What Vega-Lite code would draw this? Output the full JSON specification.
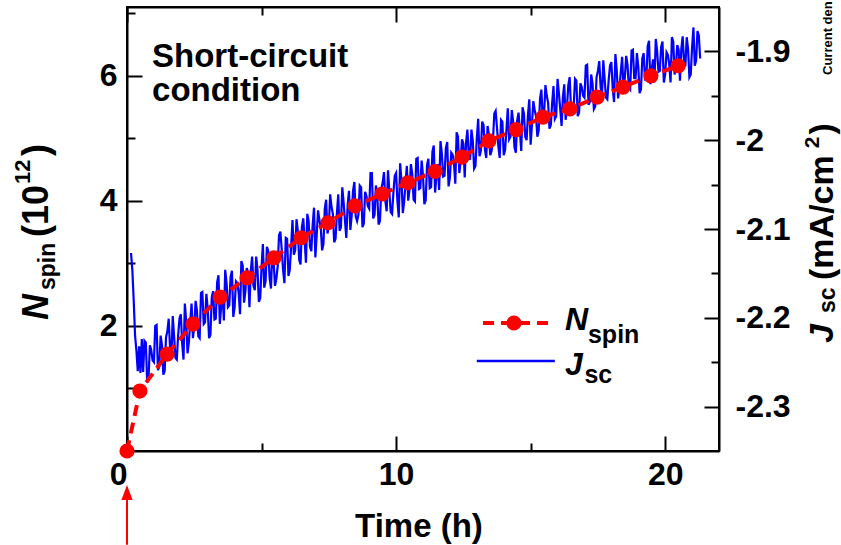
{
  "$schema": "https://vega.github.io/schema/vega-lite/v6.json",
  "width": 592,
  "height": 444,
  "autosize": {"type": "none"},
  "padding": {"left": 127, "top": 7, "right": 122, "bottom": 94},
  "background": "white",
  "config": {
    "view": {"stroke": "black", "strokeWidth": 2},
    "font": "Liberation Sans",
    "axis": {
      "labelFont": "Liberation Sans",
      "labelFontSize": 32,
      "labelFontWeight": "bold",
      "labelColor": "black",
      "tickColor": "black",
      "tickWidth": 2,
      "domainColor": "black",
      "domainWidth": 2,
      "grid": false,
      "labelOverlap": false,
      "labelFlush": false,
      "labelBound": false
    }
  },
  "datasets": {
    "nspin": [
      {"t": 0, "n": 0},
      {"t": 0.48, "n": 0.96},
      {"t": 1.49, "n": 1.55},
      {"t": 2.45, "n": 2.03},
      {"t": 3.46, "n": 2.46},
      {"t": 4.46, "n": 2.77},
      {"t": 5.46, "n": 3.09},
      {"t": 6.47, "n": 3.41},
      {"t": 7.47, "n": 3.65},
      {"t": 8.47, "n": 3.92},
      {"t": 9.48, "n": 4.11},
      {"t": 10.44, "n": 4.29},
      {"t": 11.45, "n": 4.47},
      {"t": 12.45, "n": 4.70},
      {"t": 13.45, "n": 4.96},
      {"t": 14.46, "n": 5.14},
      {"t": 15.46, "n": 5.34},
      {"t": 16.46, "n": 5.47},
      {"t": 17.47, "n": 5.66},
      {"t": 18.43, "n": 5.82},
      {"t": 19.47, "n": 6.00},
      {"t": 20.48, "n": 6.16}
    ],
    "jsc": [
      {"t": 0.15, "j": -2.127}, {"t": 0.2, "j": -2.147}, {"t": 0.25, "j": -2.181}, {"t": 0.3, "j": -2.220},
      {"t": 0.35, "j": -2.237}, {"t": 0.4, "j": -2.260}, {"t": 0.45, "j": -2.232}, {"t": 0.5, "j": -2.262},
      {"t": 0.55, "j": -2.224},
      {"t": 0.6, "j": -2.261}, {"t": 0.65, "j": -2.226}, {"t": 0.7, "j": -2.228}, {"t": 0.75, "j": -2.273},
      {"t": 0.8, "j": -2.269}, {"t": 0.85, "j": -2.231}, {"t": 0.9, "j": -2.236}, {"t": 0.95, "j": -2.248},
      {"t": 1.0, "j": -2.250}, {"t": 1.05, "j": -2.209}, {"t": 1.1, "j": -2.208}, {"t": 1.15, "j": -2.259},
      {"t": 1.2, "j": -2.255}, {"t": 1.25, "j": -2.220}, {"t": 1.3, "j": -2.231}, {"t": 1.35, "j": -2.264},
      {"t": 1.4, "j": -2.260}, {"t": 1.45, "j": -2.222}, {"t": 1.5, "j": -2.215}, {"t": 1.55, "j": -2.201},
      {"t": 1.6, "j": -2.234}, {"t": 1.65, "j": -2.245}, {"t": 1.7, "j": -2.198}, {"t": 1.75, "j": -2.221},
      {"t": 1.8, "j": -2.245}, {"t": 1.85, "j": -2.247}, {"t": 1.9, "j": -2.220}, {"t": 1.95, "j": -2.201},
      {"t": 2.0, "j": -2.196}, {"t": 2.05, "j": -2.229}, {"t": 2.1, "j": -2.247}, {"t": 2.15, "j": -2.184},
      {"t": 2.2, "j": -2.204}, {"t": 2.25, "j": -2.240}, {"t": 2.3, "j": -2.227}, {"t": 2.35, "j": -2.204},
      {"t": 2.4, "j": -2.184}, {"t": 2.45, "j": -2.223}, {"t": 2.5, "j": -2.210}, {"t": 2.55, "j": -2.181},
      {"t": 2.6, "j": -2.192}, {"t": 2.65, "j": -2.221}, {"t": 2.7, "j": -2.223}, {"t": 2.75, "j": -2.172},
      {"t": 2.8, "j": -2.171}, {"t": 2.85, "j": -2.207}, {"t": 2.9, "j": -2.205}, {"t": 2.95, "j": -2.173},
      {"t": 3.0, "j": -2.190}, {"t": 3.05, "j": -2.223}, {"t": 3.1, "j": -2.219}, {"t": 3.15, "j": -2.177},
      {"t": 3.2, "j": -2.170}, {"t": 3.25, "j": -2.202}, {"t": 3.3, "j": -2.201}, {"t": 3.35, "j": -2.160},
      {"t": 3.4, "j": -2.152}, {"t": 3.45, "j": -2.207}, {"t": 3.5, "j": -2.187}, {"t": 3.55, "j": -2.173},
      {"t": 3.6, "j": -2.203}, {"t": 3.65, "j": -2.146}, {"t": 3.7, "j": -2.161}, {"t": 3.75, "j": -2.188},
      {"t": 3.8, "j": -2.186}, {"t": 3.85, "j": -2.154}, {"t": 3.9, "j": -2.147}, {"t": 3.95, "j": -2.199},
      {"t": 4.0, "j": -2.188}, {"t": 4.05, "j": -2.159}, {"t": 4.1, "j": -2.161}, {"t": 4.15, "j": -2.172},
      {"t": 4.2, "j": -2.196}, {"t": 4.25, "j": -2.136}, {"t": 4.3, "j": -2.141}, {"t": 4.35, "j": -2.183},
      {"t": 4.4, "j": -2.170}, {"t": 4.45, "j": -2.144}, {"t": 4.5, "j": -2.149}, {"t": 4.55, "j": -2.188},
      {"t": 4.6, "j": -2.147}, {"t": 4.65, "j": -2.131}, {"t": 4.7, "j": -2.164}, {"t": 4.75, "j": -2.169},
      {"t": 4.8, "j": -2.131}, {"t": 4.85, "j": -2.146}, {"t": 4.9, "j": -2.182}, {"t": 4.95, "j": -2.178},
      {"t": 5.0, "j": -2.143}, {"t": 5.05, "j": -2.117}, {"t": 5.1, "j": -2.166}, {"t": 5.15, "j": -2.159},
      {"t": 5.2, "j": -2.120}, {"t": 5.25, "j": -2.125}, {"t": 5.3, "j": -2.155}, {"t": 5.35, "j": -2.167},
      {"t": 5.4, "j": -2.125}, {"t": 5.45, "j": -2.137}, {"t": 5.5, "j": -2.164}, {"t": 5.55, "j": -2.156},
      {"t": 5.6, "j": -2.142}, {"t": 5.65, "j": -2.107}, {"t": 5.7, "j": -2.103}, {"t": 5.75, "j": -2.123},
      {"t": 5.8, "j": -2.146}, {"t": 5.85, "j": -2.161}, {"t": 5.9, "j": -2.110}, {"t": 5.95, "j": -2.111},
      {"t": 6.0, "j": -2.153}, {"t": 6.05, "j": -2.146}, {"t": 6.1, "j": -2.119}, {"t": 6.15, "j": -2.090},
      {"t": 6.2, "j": -2.129}, {"t": 6.25, "j": -2.124}, {"t": 6.3, "j": -2.089}, {"t": 6.35, "j": -2.103},
      {"t": 6.4, "j": -2.135}, {"t": 6.45, "j": -2.140}, {"t": 6.5, "j": -2.098}, {"t": 6.55, "j": -2.088},
      {"t": 6.6, "j": -2.112}, {"t": 6.65, "j": -2.138}, {"t": 6.7, "j": -2.083}, {"t": 6.75, "j": -2.091},
      {"t": 6.8, "j": -2.120}, {"t": 6.85, "j": -2.125}, {"t": 6.9, "j": -2.095}, {"t": 6.95, "j": -2.076},
      {"t": 7.0, "j": -2.132}, {"t": 7.05, "j": -2.107}, {"t": 7.1, "j": -2.079}, {"t": 7.15, "j": -2.090},
      {"t": 7.2, "j": -2.098}, {"t": 7.25, "j": -2.124}, {"t": 7.3, "j": -2.117}, {"t": 7.35, "j": -2.077},
      {"t": 7.4, "j": -2.067}, {"t": 7.45, "j": -2.105}, {"t": 7.5, "j": -2.098}, {"t": 7.55, "j": -2.061},
      {"t": 7.6, "j": -2.075}, {"t": 7.65, "j": -2.083}, {"t": 7.7, "j": -2.115}, {"t": 7.75, "j": -2.111},
      {"t": 7.8, "j": -2.083}, {"t": 7.85, "j": -2.061}, {"t": 7.9, "j": -2.102}, {"t": 7.95, "j": -2.098},
      {"t": 8.0, "j": -2.053}, {"t": 8.05, "j": -2.070}, {"t": 8.1, "j": -2.090}, {"t": 8.15, "j": -2.110},
      {"t": 8.2, "j": -2.073}, {"t": 8.25, "j": -2.057}, {"t": 8.3, "j": -2.101}, {"t": 8.35, "j": -2.085},
      {"t": 8.4, "j": -2.057}, {"t": 8.45, "j": -2.047}, {"t": 8.5, "j": -2.086}, {"t": 8.55, "j": -2.091},
      {"t": 8.6, "j": -2.084}, {"t": 8.65, "j": -2.051}, {"t": 8.7, "j": -2.053}, {"t": 8.75, "j": -2.098},
      {"t": 8.8, "j": -2.094}, {"t": 8.85, "j": -2.058}, {"t": 8.9, "j": -2.063}, {"t": 8.95, "j": -2.074},
      {"t": 9.0, "j": -2.077}, {"t": 9.05, "j": -2.037}, {"t": 9.1, "j": -2.037}, {"t": 9.15, "j": -2.088},
      {"t": 9.2, "j": -2.084}, {"t": 9.25, "j": -2.051}, {"t": 9.3, "j": -2.062}, {"t": 9.35, "j": -2.095},
      {"t": 9.4, "j": -2.091}, {"t": 9.45, "j": -2.055}, {"t": 9.5, "j": -2.048}, {"t": 9.55, "j": -2.036},
      {"t": 9.6, "j": -2.068}, {"t": 9.65, "j": -2.080}, {"t": 9.7, "j": -2.034}, {"t": 9.75, "j": -2.058},
      {"t": 9.8, "j": -2.081}, {"t": 9.85, "j": -2.083}, {"t": 9.9, "j": -2.059}, {"t": 9.95, "j": -2.040},
      {"t": 10.0, "j": -2.037}, {"t": 10.05, "j": -2.069}, {"t": 10.1, "j": -2.087}, {"t": 10.15, "j": -2.026},
      {"t": 10.2, "j": -2.046}, {"t": 10.25, "j": -2.082}, {"t": 10.3, "j": -2.069}, {"t": 10.35, "j": -2.048},
      {"t": 10.4, "j": -2.029}, {"t": 10.45, "j": -2.068}, {"t": 10.5, "j": -2.055}, {"t": 10.55, "j": -2.027},
      {"t": 10.6, "j": -2.038}, {"t": 10.65, "j": -2.067}, {"t": 10.7, "j": -2.069}, {"t": 10.75, "j": -2.021},
      {"t": 10.8, "j": -2.020}, {"t": 10.85, "j": -2.055}, {"t": 10.9, "j": -2.054}, {"t": 10.95, "j": -2.023},
      {"t": 11.0, "j": -2.040}, {"t": 11.05, "j": -2.072}, {"t": 11.1, "j": -2.068}, {"t": 11.15, "j": -2.028},
      {"t": 11.2, "j": -2.021}, {"t": 11.25, "j": -2.054}, {"t": 11.3, "j": -2.053}, {"t": 11.35, "j": -2.013},
      {"t": 11.4, "j": -2.006}, {"t": 11.45, "j": -2.059}, {"t": 11.5, "j": -2.040}, {"t": 11.55, "j": -2.027},
      {"t": 11.6, "j": -2.056}, {"t": 11.65, "j": -2.001}, {"t": 11.7, "j": -2.015}, {"t": 11.75, "j": -2.041},
      {"t": 11.8, "j": -2.040}, {"t": 11.85, "j": -2.009}, {"t": 11.9, "j": -2.002}, {"t": 11.95, "j": -2.052},
      {"t": 12.0, "j": -2.042}, {"t": 12.05, "j": -2.014}, {"t": 12.1, "j": -2.016}, {"t": 12.15, "j": -2.026},
      {"t": 12.2, "j": -2.049}, {"t": 12.25, "j": -1.991}, {"t": 12.3, "j": -1.996}, {"t": 12.35, "j": -2.037},
      {"t": 12.4, "j": -2.024}, {"t": 12.45, "j": -1.999}, {"t": 12.5, "j": -2.004}, {"t": 12.55, "j": -2.042},
      {"t": 12.6, "j": -2.003}, {"t": 12.65, "j": -1.988}, {"t": 12.7, "j": -2.017}, {"t": 12.75, "j": -2.022},
      {"t": 12.8, "j": -1.988}, {"t": 12.85, "j": -2.001}, {"t": 12.9, "j": -2.032}, {"t": 12.95, "j": -2.029},
      {"t": 13.0, "j": -1.998}, {"t": 13.05, "j": -1.976}, {"t": 13.1, "j": -2.018}, {"t": 13.15, "j": -2.012},
      {"t": 13.2, "j": -1.979}, {"t": 13.25, "j": -1.983}, {"t": 13.3, "j": -2.010}, {"t": 13.35, "j": -2.020},
      {"t": 13.4, "j": -1.984}, {"t": 13.45, "j": -1.994}, {"t": 13.5, "j": -2.017}, {"t": 13.55, "j": -2.012},
      {"t": 13.6, "j": -2.000}, {"t": 13.65, "j": -1.970}, {"t": 13.7, "j": -1.967}, {"t": 13.75, "j": -1.986},
      {"t": 13.8, "j": -2.007}, {"t": 13.85, "j": -2.020}, {"t": 13.9, "j": -1.977}, {"t": 13.95, "j": -1.979},
      {"t": 14.0, "j": -2.017}, {"t": 14.05, "j": -2.011}, {"t": 14.1, "j": -1.989}, {"t": 14.15, "j": -1.964},
      {"t": 14.2, "j": -1.999}, {"t": 14.25, "j": -1.996}, {"t": 14.3, "j": -1.966}, {"t": 14.35, "j": -1.979},
      {"t": 14.4, "j": -2.008}, {"t": 14.45, "j": -2.014}, {"t": 14.5, "j": -1.978}, {"t": 14.55, "j": -1.969},
      {"t": 14.6, "j": -1.989}, {"t": 14.65, "j": -2.012}, {"t": 14.7, "j": -1.963}, {"t": 14.75, "j": -1.970},
      {"t": 14.8, "j": -1.996}, {"t": 14.85, "j": -2.000}, {"t": 14.9, "j": -1.972}, {"t": 14.95, "j": -1.954},
      {"t": 15.0, "j": -2.005}, {"t": 15.05, "j": -1.982}, {"t": 15.1, "j": -1.956}, {"t": 15.15, "j": -1.966},
      {"t": 15.2, "j": -1.973}, {"t": 15.25, "j": -1.996}, {"t": 15.3, "j": -1.989}, {"t": 15.35, "j": -1.953},
      {"t": 15.4, "j": -1.943}, {"t": 15.45, "j": -1.977}, {"t": 15.5, "j": -1.971}, {"t": 15.55, "j": -1.938},
      {"t": 15.6, "j": -1.950}, {"t": 15.65, "j": -1.958}, {"t": 15.7, "j": -1.987}, {"t": 15.75, "j": -1.983},
      {"t": 15.8, "j": -1.958}, {"t": 15.85, "j": -1.939}, {"t": 15.9, "j": -1.976}, {"t": 15.95, "j": -1.973},
      {"t": 16.0, "j": -1.931}, {"t": 16.05, "j": -1.947}, {"t": 16.1, "j": -1.965}, {"t": 16.15, "j": -1.984},
      {"t": 16.2, "j": -1.951}, {"t": 16.25, "j": -1.937}, {"t": 16.3, "j": -1.977}, {"t": 16.35, "j": -1.963},
      {"t": 16.4, "j": -1.938}, {"t": 16.45, "j": -1.929}, {"t": 16.5, "j": -1.964}, {"t": 16.55, "j": -1.968},
      {"t": 16.6, "j": -1.962}, {"t": 16.65, "j": -1.931}, {"t": 16.7, "j": -1.933}, {"t": 16.75, "j": -1.973},
      {"t": 16.8, "j": -1.969}, {"t": 16.85, "j": -1.936}, {"t": 16.9, "j": -1.940}, {"t": 16.95, "j": -1.950},
      {"t": 17.0, "j": -1.952}, {"t": 17.05, "j": -1.916}, {"t": 17.1, "j": -1.915}, {"t": 17.15, "j": -1.960},
      {"t": 17.2, "j": -1.957}, {"t": 17.25, "j": -1.926}, {"t": 17.3, "j": -1.936}, {"t": 17.35, "j": -1.965},
      {"t": 17.4, "j": -1.962}, {"t": 17.45, "j": -1.929}, {"t": 17.5, "j": -1.922}, {"t": 17.55, "j": -1.911},
      {"t": 17.6, "j": -1.940}, {"t": 17.65, "j": -1.951}, {"t": 17.7, "j": -1.910}, {"t": 17.75, "j": -1.931},
      {"t": 17.8, "j": -1.952}, {"t": 17.85, "j": -1.954}, {"t": 17.9, "j": -1.932}, {"t": 17.95, "j": -1.916},
      {"t": 18.0, "j": -1.912}, {"t": 18.05, "j": -1.942}, {"t": 18.1, "j": -1.957}, {"t": 18.15, "j": -1.903},
      {"t": 18.2, "j": -1.921}, {"t": 18.25, "j": -1.953}, {"t": 18.3, "j": -1.942}, {"t": 18.35, "j": -1.923},
      {"t": 18.4, "j": -1.906}, {"t": 18.45, "j": -1.941}, {"t": 18.5, "j": -1.930}, {"t": 18.55, "j": -1.905},
      {"t": 18.6, "j": -1.915}, {"t": 18.65, "j": -1.941}, {"t": 18.7, "j": -1.943}, {"t": 18.75, "j": -1.899},
      {"t": 18.8, "j": -1.898}, {"t": 18.85, "j": -1.930}, {"t": 18.9, "j": -1.930}, {"t": 18.95, "j": -1.902},
      {"t": 19.0, "j": -1.917}, {"t": 19.05, "j": -1.947}, {"t": 19.1, "j": -1.943}, {"t": 19.15, "j": -1.908},
      {"t": 19.2, "j": -1.902}, {"t": 19.25, "j": -1.931}, {"t": 19.3, "j": -1.930}, {"t": 19.35, "j": -1.894},
      {"t": 19.4, "j": -1.888}, {"t": 19.45, "j": -1.937}, {"t": 19.5, "j": -1.920}, {"t": 19.55, "j": -1.909},
      {"t": 19.6, "j": -1.935}, {"t": 19.65, "j": -1.886}, {"t": 19.7, "j": -1.899}, {"t": 19.75, "j": -1.923},
      {"t": 19.8, "j": -1.922}, {"t": 19.85, "j": -1.895}, {"t": 19.9, "j": -1.889}, {"t": 19.95, "j": -1.935},
      {"t": 20.0, "j": -1.926}, {"t": 20.05, "j": -1.901}, {"t": 20.1, "j": -1.904}, {"t": 20.15, "j": -1.914},
      {"t": 20.2, "j": -1.935}, {"t": 20.25, "j": -1.884}, {"t": 20.3, "j": -1.889}, {"t": 20.35, "j": -1.926},
      {"t": 20.4, "j": -1.915}, {"t": 20.45, "j": -1.893}, {"t": 20.5, "j": -1.898}, {"t": 20.55, "j": -1.933},
      {"t": 20.6, "j": -1.897}, {"t": 20.65, "j": -1.883}, {"t": 20.7, "j": -1.912}, {"t": 20.75, "j": -1.917},
      {"t": 20.8, "j": -1.884}, {"t": 20.85, "j": -1.897}, {"t": 20.9, "j": -1.929}, {"t": 20.95, "j": -1.926},
      {"t": 21.0, "j": -1.895}, {"t": 21.05, "j": -1.873}, {"t": 21.1, "j": -1.916}, {"t": 21.15, "j": -1.910},
      {"t": 21.2, "j": -1.877}, {"t": 21.25, "j": -1.882}, {"t": 21.3, "j": -1.908}
    ]
  },
  "layer": [
    {
      "data": {"name": "jsc"},
      "mark": {"type": "line", "color": "#0000ff", "strokeWidth": 2.2},
      "encoding": {
        "x": {
          "field": "t", "type": "quantitative",
          "scale": {"domain": [0, 22], "nice": false, "zero": false},
          "axis": {
            "orient": "top", "title": null, "labels": false,
            "values": [0, 5, 10, 15, 20],
            "tickSize": {"condition": {"test": "datum.value % 10 === 0", "value": -15}, "value": -8}
          }
        },
        "y": {
          "field": "j", "type": "quantitative",
          "scale": {"domain": [-2.35, -1.85], "nice": false, "zero": false},
          "axis": {
            "orient": "right", "title": null,
            "values": [-2.3, -2.25, -2.2, -2.15, -2.1, -2.05, -2, -1.95, -1.9],
            "labelExpr": "abs(datum.value*10 - round(datum.value*10)) < 0.01 ? toString(datum.value) : ''",
            "tickSize": {"condition": {"test": "abs(datum.value*10 - round(datum.value*10)) < 0.01", "value": -15}, "value": -8},
            "labelPadding": 31,
            "labelAlign": "left",
            "labelBaseline": "middle"
          }
        }
      }
    },
    {
      "data": {"name": "nspin"},
      "mark": {"type": "line", "color": "#ff0000", "strokeWidth": 4, "strokeDash": [11, 7]},
      "encoding": {
        "x": {
          "field": "t", "type": "quantitative",
          "scale": {"domain": [0, 22], "nice": false, "zero": false},
          "axis": {
            "orient": "bottom", "title": null,
            "values": [0, 5, 10, 15, 20],
            "labelExpr": "datum.value % 10 === 0 ? datum.label : ''",
            "tickSize": {"condition": {"test": "datum.value % 10 === 0", "value": -15}, "value": -8},
            "labelAlign": {"condition": {"test": "datum.value === 0", "value": "right"}, "value": "center"},
            "labelBaseline": "top",
            "labelPadding": 23
          }
        },
        "y": {
          "field": "n", "type": "quantitative",
          "scale": {"domain": [0, 7.1], "nice": false, "zero": false},
          "axis": {
            "orient": "left", "title": null,
            "values": [1, 2, 3, 4, 5, 6, 7],
            "labelExpr": "datum.value % 2 === 0 ? datum.label : ''",
            "tickSize": {"condition": {"test": "datum.value % 2 === 0", "value": -15}, "value": -8},
            "labelPadding": 25,
            "labelAlign": "right",
            "labelBaseline": "middle"
          }
        }
      }
    },
    {
      "data": {"name": "nspin"},
      "mark": {"type": "point", "filled": true, "color": "#ff0000", "size": 230, "opacity": 1},
      "encoding": {
        "x": {"field": "t", "type": "quantitative", "scale": {"domain": [0, 22], "nice": false}, "axis": null},
        "y": {"field": "n", "type": "quantitative", "scale": {"domain": [0, 7.1], "nice": false}, "axis": null}
      }
    },
    {
      "data": {"values": [{}]},
      "mark": {"type": "text", "text": "Short-circuit", "font": "Liberation Sans", "fontSize": 33, "fontWeight": "bold", "align": "left", "baseline": "alphabetic", "color": "black"},
      "encoding": {
        "x": {"datum": 0.93, "type": "quantitative", "scale": {"domain": [0, 22], "nice": false}, "axis": null},
        "y": {"datum": 6.14, "type": "quantitative", "scale": {"domain": [0, 7.1], "nice": false}, "axis": null}
      }
    },
    {
      "data": {"values": [{}]},
      "mark": {"type": "text", "text": "condition", "font": "Liberation Sans", "fontSize": 33, "fontWeight": "bold", "align": "left", "baseline": "alphabetic", "color": "black"},
      "encoding": {
        "x": {"datum": 0.93, "type": "quantitative", "scale": {"domain": [0, 22], "nice": false}, "axis": null},
        "y": {"datum": 5.60, "type": "quantitative", "scale": {"domain": [0, 7.1], "nice": false}, "axis": null}
      }
    },
    {
      "data": {"values": [{}]},
      "mark": {"type": "text", "text": "Time (h)", "font": "Liberation Sans", "fontSize": 33, "fontWeight": "bold", "align": "center", "baseline": "alphabetic", "color": "black"},
      "encoding": {
        "x": {"datum": 10.85, "type": "quantitative", "scale": {"domain": [0, 22], "nice": false}, "axis": null},
        "y": {"datum": -1.375, "type": "quantitative", "scale": {"domain": [0, 7.1], "nice": false}, "axis": null}
      }
    },
    {
      "data": {"values": [{}]},
      "mark": {"type": "rule", "color": "#ff0000", "strokeWidth": 4, "strokeDash": [11, 7]},
      "encoding": {
        "x": {"datum": 13.23, "type": "quantitative", "scale": {"domain": [0, 22], "nice": false}, "axis": null},
        "x2": {"datum": 15.9},
        "y": {"datum": 2.047, "type": "quantitative", "scale": {"domain": [0, 7.1], "nice": false}, "axis": null}
      }
    },
    {
      "data": {"values": [{}]},
      "mark": {"type": "point", "filled": true, "color": "#ff0000", "size": 230, "opacity": 1},
      "encoding": {
        "x": {"datum": 14.38, "type": "quantitative", "scale": {"domain": [0, 22], "nice": false}, "axis": null},
        "y": {"datum": 2.047, "type": "quantitative", "scale": {"domain": [0, 7.1], "nice": false}, "axis": null}
      }
    },
    {
      "data": {"values": [{}]},
      "mark": {"type": "rule", "color": "#0000ff", "strokeWidth": 2.5},
      "encoding": {
        "x": {"datum": 13.0, "type": "quantitative", "scale": {"domain": [0, 22], "nice": false}, "axis": null},
        "x2": {"datum": 15.9},
        "y": {"datum": 1.44, "type": "quantitative", "scale": {"domain": [0, 7.1], "nice": false}, "axis": null}
      }
    },
    {
      "data": {"values": [{}]},
      "mark": {"type": "text", "text": "N", "font": "Liberation Sans", "fontSize": 32, "fontWeight": "bold", "fontStyle": "italic", "align": "left", "baseline": "alphabetic", "color": "black"},
      "encoding": {
        "x": {"datum": 16.28, "type": "quantitative", "scale": {"domain": [0, 22], "nice": false}, "axis": null},
        "y": {"datum": 1.935, "type": "quantitative", "scale": {"domain": [0, 7.1], "nice": false}, "axis": null}
      }
    },
    {
      "data": {"values": [{}]},
      "mark": {"type": "text", "text": "spin", "font": "Liberation Sans", "fontSize": 25, "fontWeight": "bold", "align": "left", "baseline": "alphabetic", "color": "black"},
      "encoding": {
        "x": {"datum": 17.13, "type": "quantitative", "scale": {"domain": [0, 22], "nice": false}, "axis": null},
        "y": {"datum": 1.727, "type": "quantitative", "scale": {"domain": [0, 7.1], "nice": false}, "axis": null}
      }
    },
    {
      "data": {"values": [{}]},
      "mark": {"type": "text", "text": "J", "font": "Liberation Sans", "fontSize": 32, "fontWeight": "bold", "fontStyle": "italic", "align": "left", "baseline": "alphabetic", "color": "black"},
      "encoding": {
        "x": {"datum": 16.28, "type": "quantitative", "scale": {"domain": [0, 22], "nice": false}, "axis": null},
        "y": {"datum": 1.216, "type": "quantitative", "scale": {"domain": [0, 7.1], "nice": false}, "axis": null}
      }
    },
    {
      "data": {"values": [{}]},
      "mark": {"type": "text", "text": "sc", "font": "Liberation Sans", "fontSize": 25, "fontWeight": "bold", "align": "left", "baseline": "alphabetic", "color": "black"},
      "encoding": {
        "x": {"datum": 17.0, "type": "quantitative", "scale": {"domain": [0, 22], "nice": false}, "axis": null},
        "y": {"datum": 1.088, "type": "quantitative", "scale": {"domain": [0, 7.1], "nice": false}, "axis": null}
      }
    },
    {
      "data": {"values": [{}]},
      "mark": {"type": "rule", "color": "#ff0000", "strokeWidth": 2},
      "encoding": {
        "x": {"datum": 0, "type": "quantitative", "scale": {"domain": [0, 22], "nice": false}, "axis": null},
        "y": {"datum": -0.783, "type": "quantitative", "scale": {"domain": [0, 7.1], "nice": false}, "axis": null},
        "y2": {"datum": -1.5}
      }
    },
    {
      "data": {"values": [{}]},
      "mark": {"type": "point", "filled": true, "color": "#ff0000", "size": 225, "opacity": 1, "shape": "M0,-1L0.75,1L-0.75,1Z"},
      "encoding": {
        "x": {"datum": 0, "type": "quantitative", "scale": {"domain": [0, 22], "nice": false}, "axis": null},
        "y": {"datum": -0.663, "type": "quantitative", "scale": {"domain": [0, 7.1], "nice": false}, "axis": null}
      }
    },
    {
      "data": {"values": [{}]},
      "mark": {"type": "text", "text": "N", "angle": 270, "font": "Liberation Sans", "fontSize": 36, "fontWeight": "bold", "fontStyle": "italic", "align": "left", "baseline": "alphabetic", "color": "black"},
      "encoding": {
        "x": {"datum": -2.936, "type": "quantitative", "scale": {"domain": [0, 22], "nice": false}, "axis": null},
        "y": {"datum": 2.095, "type": "quantitative", "scale": {"domain": [0, 7.1], "nice": false}, "axis": null}
      }
    },
    {
      "data": {"values": [{}]},
      "mark": {"type": "text", "text": "spin", "angle": 270, "font": "Liberation Sans", "fontSize": 23, "fontWeight": "bold", "align": "left", "baseline": "alphabetic", "color": "black"},
      "encoding": {
        "x": {"datum": -2.676, "type": "quantitative", "scale": {"domain": [0, 22], "nice": false}, "axis": null},
        "y": {"datum": 2.575, "type": "quantitative", "scale": {"domain": [0, 7.1], "nice": false}, "axis": null}
      }
    },
    {
      "data": {"values": [{}]},
      "mark": {"type": "text", "text": "(10", "angle": 270, "font": "Liberation Sans", "fontSize": 36, "fontWeight": "bold", "align": "left", "baseline": "alphabetic", "color": "black"},
      "encoding": {
        "x": {"datum": -2.936, "type": "quantitative", "scale": {"domain": [0, 22], "nice": false}, "axis": null},
        "y": {"datum": 3.422, "type": "quantitative", "scale": {"domain": [0, 7.1], "nice": false}, "axis": null}
      }
    },
    {
      "data": {"values": [{}]},
      "mark": {"type": "text", "text": "12", "angle": 270, "font": "Liberation Sans", "fontSize": 22, "fontWeight": "bold", "align": "left", "baseline": "alphabetic", "color": "black"},
      "encoding": {
        "x": {"datum": -3.605, "type": "quantitative", "scale": {"domain": [0, 22], "nice": false}, "axis": null},
        "y": {"datum": 4.27, "type": "quantitative", "scale": {"domain": [0, 7.1], "nice": false}, "axis": null}
      }
    },
    {
      "data": {"values": [{}]},
      "mark": {"type": "text", "text": ")", "angle": 270, "font": "Liberation Sans", "fontSize": 36, "fontWeight": "bold", "align": "left", "baseline": "alphabetic", "color": "black"},
      "encoding": {
        "x": {"datum": -2.936, "type": "quantitative", "scale": {"domain": [0, 22], "nice": false}, "axis": null},
        "y": {"datum": 4.718, "type": "quantitative", "scale": {"domain": [0, 7.1], "nice": false}, "axis": null}
      }
    },
    {
      "data": {"values": [{}]},
      "mark": {"type": "text", "text": "J", "angle": 270, "font": "Liberation Sans", "fontSize": 34, "fontWeight": "bold", "fontStyle": "italic", "align": "left", "baseline": "alphabetic", "color": "black"},
      "encoding": {
        "x": {"datum": 26.24, "type": "quantitative", "scale": {"domain": [0, 22], "nice": false}, "axis": null},
        "y": {"datum": 1.727, "type": "quantitative", "scale": {"domain": [0, 7.1], "nice": false}, "axis": null}
      }
    },
    {
      "data": {"values": [{}]},
      "mark": {"type": "text", "text": "sc", "angle": 270, "font": "Liberation Sans", "fontSize": 23, "fontWeight": "bold", "align": "left", "baseline": "alphabetic", "color": "black"},
      "encoding": {
        "x": {"datum": 26.31, "type": "quantitative", "scale": {"domain": [0, 22], "nice": false}, "axis": null},
        "y": {"datum": 2.207, "type": "quantitative", "scale": {"domain": [0, 7.1], "nice": false}, "axis": null}
      }
    },
    {
      "data": {"values": [{}]},
      "mark": {"type": "text", "text": "(mA/cm", "angle": 270, "font": "Liberation Sans", "fontSize": 34, "fontWeight": "bold", "align": "left", "baseline": "alphabetic", "color": "black"},
      "encoding": {
        "x": {"datum": 26.24, "type": "quantitative", "scale": {"domain": [0, 22], "nice": false}, "axis": null},
        "y": {"datum": 2.735, "type": "quantitative", "scale": {"domain": [0, 7.1], "nice": false}, "axis": null}
      }
    },
    {
      "data": {"values": [{}]},
      "mark": {"type": "text", "text": "2", "angle": 270, "font": "Liberation Sans", "fontSize": 21, "fontWeight": "bold", "align": "left", "baseline": "alphabetic", "color": "black"},
      "encoding": {
        "x": {"datum": 25.72, "type": "quantitative", "scale": {"domain": [0, 22], "nice": false}, "axis": null},
        "y": {"datum": 4.84, "type": "quantitative", "scale": {"domain": [0, 7.1], "nice": false}, "axis": null}
      }
    },
    {
      "data": {"values": [{}]},
      "mark": {"type": "text", "text": ")", "angle": 270, "font": "Liberation Sans", "fontSize": 34, "fontWeight": "bold", "align": "left", "baseline": "alphabetic", "color": "black"},
      "encoding": {
        "x": {"datum": 26.24, "type": "quantitative", "scale": {"domain": [0, 22], "nice": false}, "axis": null},
        "y": {"datum": 5.06, "type": "quantitative", "scale": {"domain": [0, 7.1], "nice": false}, "axis": null}
      }
    },
    {
      "data": {"values": [{}]},
      "mark": {"type": "text", "text": "Current den", "angle": 270, "font": "Liberation Sans", "fontSize": 13, "fontWeight": "bold", "align": "left", "baseline": "alphabetic", "color": "black"},
      "encoding": {
        "x": {"datum": 26.2, "type": "quantitative", "scale": {"domain": [0, 22], "nice": false}, "axis": null},
        "y": {"datum": 6.013, "type": "quantitative", "scale": {"domain": [0, 7.1], "nice": false}, "axis": null}
      }
    }
  ],
  "resolve": {"scale": {"x": "independent", "y": "independent"}}
}
